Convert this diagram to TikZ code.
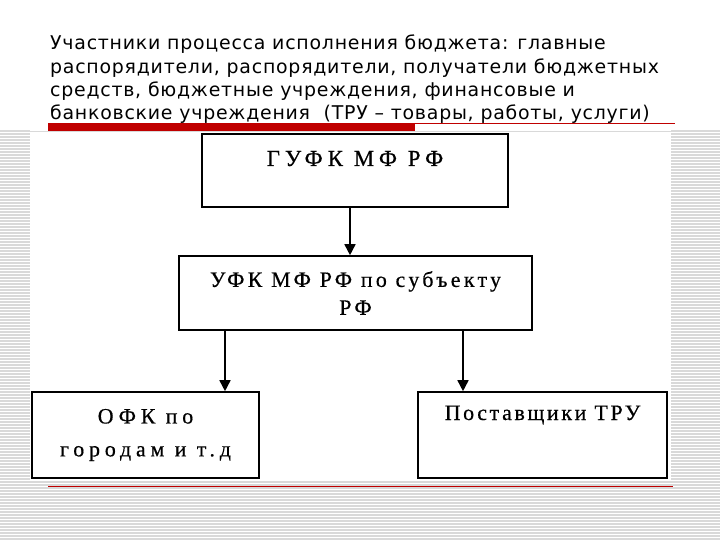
\documentclass[tikz,border=0pt]{standalone}
\usepackage{fontspec}
\setmainfont{Liberation Serif}
\newfontfamily\titlefont[LetterSpace=4]{DejaVu Sans}
\newfontfamily\boxfont[LetterSpace=12, FakeBold=0.5]{Liberation Serif}
\newfontfamily\boxfontmid[LetterSpace=15, FakeBold=0.5]{Liberation Serif}
\newfontfamily\boxfontwide[LetterSpace=22, FakeBold=0.5]{Liberation Serif}
\usepackage{tikz}
\usetikzlibrary{positioning,arrows.meta}
\definecolor{redbar}{HTML}{C00000}
\definecolor{stripe}{HTML}{D9D9D9}
\tikzset{
  org/.style={draw=black, line width=1.6bp, inner sep=0pt, align=center,
    font=\boxfont\fontsize{22}{28}\selectfont},
  edge/.style={-{Triangle[length=11bp, width=11bp]}, line width=1.6bp},
  stripes/.style={stripe, line width=1.2bp},
}
\begin{document}
\begin{tikzpicture}[x=1bp, y=-1bp]
  \useasboundingbox (0,0) rectangle (720,540);
  % background stripes
  \foreach \y in {131,134,...,540} {
    \draw[stripes] (0,\y) -- (30,\y);
    \draw[stripes] (671,\y) -- (720,\y);
  }
  \foreach \y in {482,485,...,540}
    \draw[stripes] (30,\y) -- (671,\y);
  \draw[stripe, line width=0.8bp] (0,131.5) -- (720,131.5);
  % title
  \node[anchor=north west, align=left, inner sep=0pt,
        font=\titlefont\fontsize{19}{23.3}\selectfont] (title) at (50,35)
    {Участники процесса исполнения бюджета: главные\\
     распорядители, распорядители, получатели бюджетных\\
     средств, бюджетные учреждения, финансовые и\\
     банковские учреждения~ (ТРУ – товары, работы, услуги)};
  \fill[redbar] (48,123.5) rectangle (415,131);
  \draw[redbar, line width=0.8bp] (415,123.5) -- (675,123.5);
  \draw[redbar, line width=0.8bp] (48,486) -- (673,486);
  % boxes
  \node[org, minimum width=306bp, text height=32bp, text depth=41bp,
        font=\boxfontwide\fontsize{23}{28}\selectfont]
    (gufk) at (355,170.5) {ГУФК МФ РФ};
  \node[org, minimum width=353bp, minimum height=74bp,
        font=\boxfontmid\fontsize{22}{28}\selectfont]
    (ufk) at (355.5,293) {УФК МФ РФ по субъекту\\РФ};
  \node[org, minimum width=227bp, minimum height=86bp,
        font=\boxfontwide\fontsize{22}{33}\selectfont]
    (ofk) at (145.5,435) {ОФК по\\городам и т.д};
  \node[org, minimum width=249bp, text height=28bp, text depth=58bp]
    (post) at (542.5,435) {Поставщики ТРУ};
  % arrows
  \draw[edge] (gufk.south -| 350,0) -- (ufk.north -| 350,0);
  \draw[edge] (ufk.south -| 225,0) -- (ofk.north -| 225,0);
  \draw[edge] (ufk.south -| 463,0) -- (post.north -| 463,0);
\end{tikzpicture}
\end{document}
